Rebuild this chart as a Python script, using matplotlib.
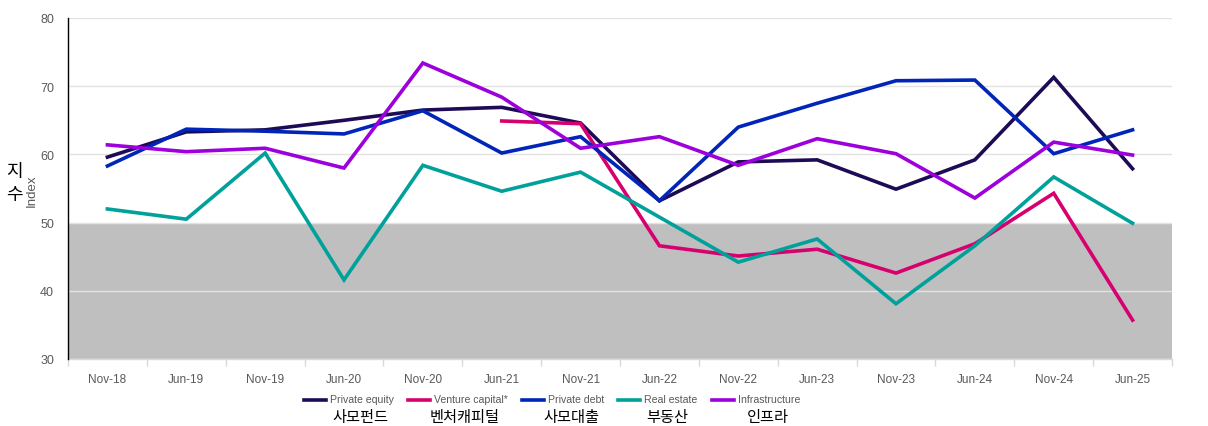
import matplotlib
matplotlib.use("Agg")
import matplotlib.pyplot as plt
import numpy as np
from matplotlib.lines import Line2D

categories = ["Nov-18", "Jun-19", "Nov-19", "Jun-20", "Nov-20", "Jun-21", "Nov-21",
              "Jun-22", "Nov-22", "Jun-23", "Nov-23", "Jun-24", "Nov-24", "Jun-25"]

private_equity = [59.6, 63.3, 63.6, 65.0, 66.5, 66.9, 64.6, 53.2, 58.9, 59.2, 54.9, 59.2, 71.3, 57.9]
venture_capital = [None, None, None, None, None, 64.9, 64.5, 46.6, 45.1, 46.1, 42.6, 46.9, 54.3, 35.7]
private_debt = [58.3, 63.7, 63.4, 63.0, 66.4, 60.2, 62.6, 53.2, 64.0, 67.5, 70.8, 70.9, 60.1, 63.6]
real_estate = [52.0, 50.5, 60.2, 41.6, 58.4, 54.6, 57.4, 50.8, 44.2, 47.6, 38.1, 46.6, 56.7, 49.9]
infrastructure = [61.4, 60.4, 60.9, 58.0, 73.4, 68.4, 60.9, 62.6, 58.4, 62.3, 60.1, 53.6, 61.8, 59.9]

series_en = ["Private equity", "Venture capital*", "Private debt", "Real estate", "Infrastructure"]
series_ko = ["사모펀드", "벤처캐피털", "사모대출", "부동산", "인프라"]
series_vals = [private_equity, venture_capital, private_debt, real_estate, infrastructure]
colors = ["#1D0B55", "#D7006F", "#0025B8", "#00A19A", "#9C00DB"]

fig = plt.figure(figsize=(12.08, 4.27), dpi=100)
ax = fig.add_axes([68/1208, 1-360/427, (1172-68)/1208, (360-19)/427])

x = np.arange(len(categories))
ax.set_xlim(-0.5, len(categories)-0.5)
ax.set_ylim(30, 80)

# shaded band below 50
ax.axhspan(30, 50, color="#BFBFBF", zorder=0.5, lw=0)
ax.set_yticks([30, 40, 50, 60, 70, 80])
ax.grid(axis="y", color="#E3E3E3", lw=1.0, zorder=0.8)
ax.set_axisbelow(False)

for vals, c in zip(series_vals, colors):
    y = np.array([np.nan if v is None else v for v in vals], dtype=float)
    ax.plot(x, y, color=c, lw=2.6, zorder=3, solid_joinstyle="miter")

ax.set_xticks(x)
ax.set_xticklabels(categories)
ax.set_xticks(np.arange(-0.5, len(categories), 1.0), minor=True)
ax.tick_params(axis="x", which="major", length=0, pad=10, labelsize=8.5, labelcolor="#595959")
ax.tick_params(axis="x", which="minor", length=5, color="#D9D9D9", width=1)
ax.tick_params(axis="y", length=0, pad=10, labelsize=9, labelcolor="#595959")
for lab in ax.get_xticklabels() + ax.get_yticklabels():
    lab.set_fontfamily("Liberation Sans")

for s in ["top", "right"]:
    ax.spines[s].set_visible(False)
ax.spines["left"].set_color("black")
ax.spines["left"].set_linewidth(1.0)
ax.spines["left"].set_zorder(4)
ax.spines["bottom"].set_color("#D9D9D9")
ax.spines["bottom"].set_linewidth(1.0)

# y-axis labels
fig.text(14/1208, 1-172/427, "지", fontsize=13, family=["Noto Sans CJK KR", "DejaVu Sans"],
         ha="center", va="center", color="black")
fig.text(14/1208, 1-195/427, "수", fontsize=13, family=["Noto Sans CJK KR", "DejaVu Sans"],
         ha="center", va="center", color="black")
fig.text(32/1208, 1-191/427, "Index", fontsize=9.5, family="Liberation Sans", rotation=90,
         ha="center", va="center", color="#595959")

# legend (manual)
handle_x = [304, 408, 522, 618, 712]
ko_center = [360, 465, 571, 667, 768]
for hx, kc, en, ko, c in zip(handle_x, ko_center, series_en, series_ko, colors):
    fig.add_artist(Line2D([hx/1208, (hx+22)/1208], [1-401/427, 1-401/427],
                          color=c, lw=2.6, transform=fig.transFigure))
    fig.text((hx+26)/1208, 1-400/427, en, fontsize=7.6, family="Liberation Sans",
             ha="left", va="center", color="#595959")
    fig.text(kc/1208, 1-418/427, ko, fontsize=11, family=["Noto Sans CJK KR", "DejaVu Sans"],
             ha="center", va="center", color="black")

fig.savefig("out.png", dpi=100)
